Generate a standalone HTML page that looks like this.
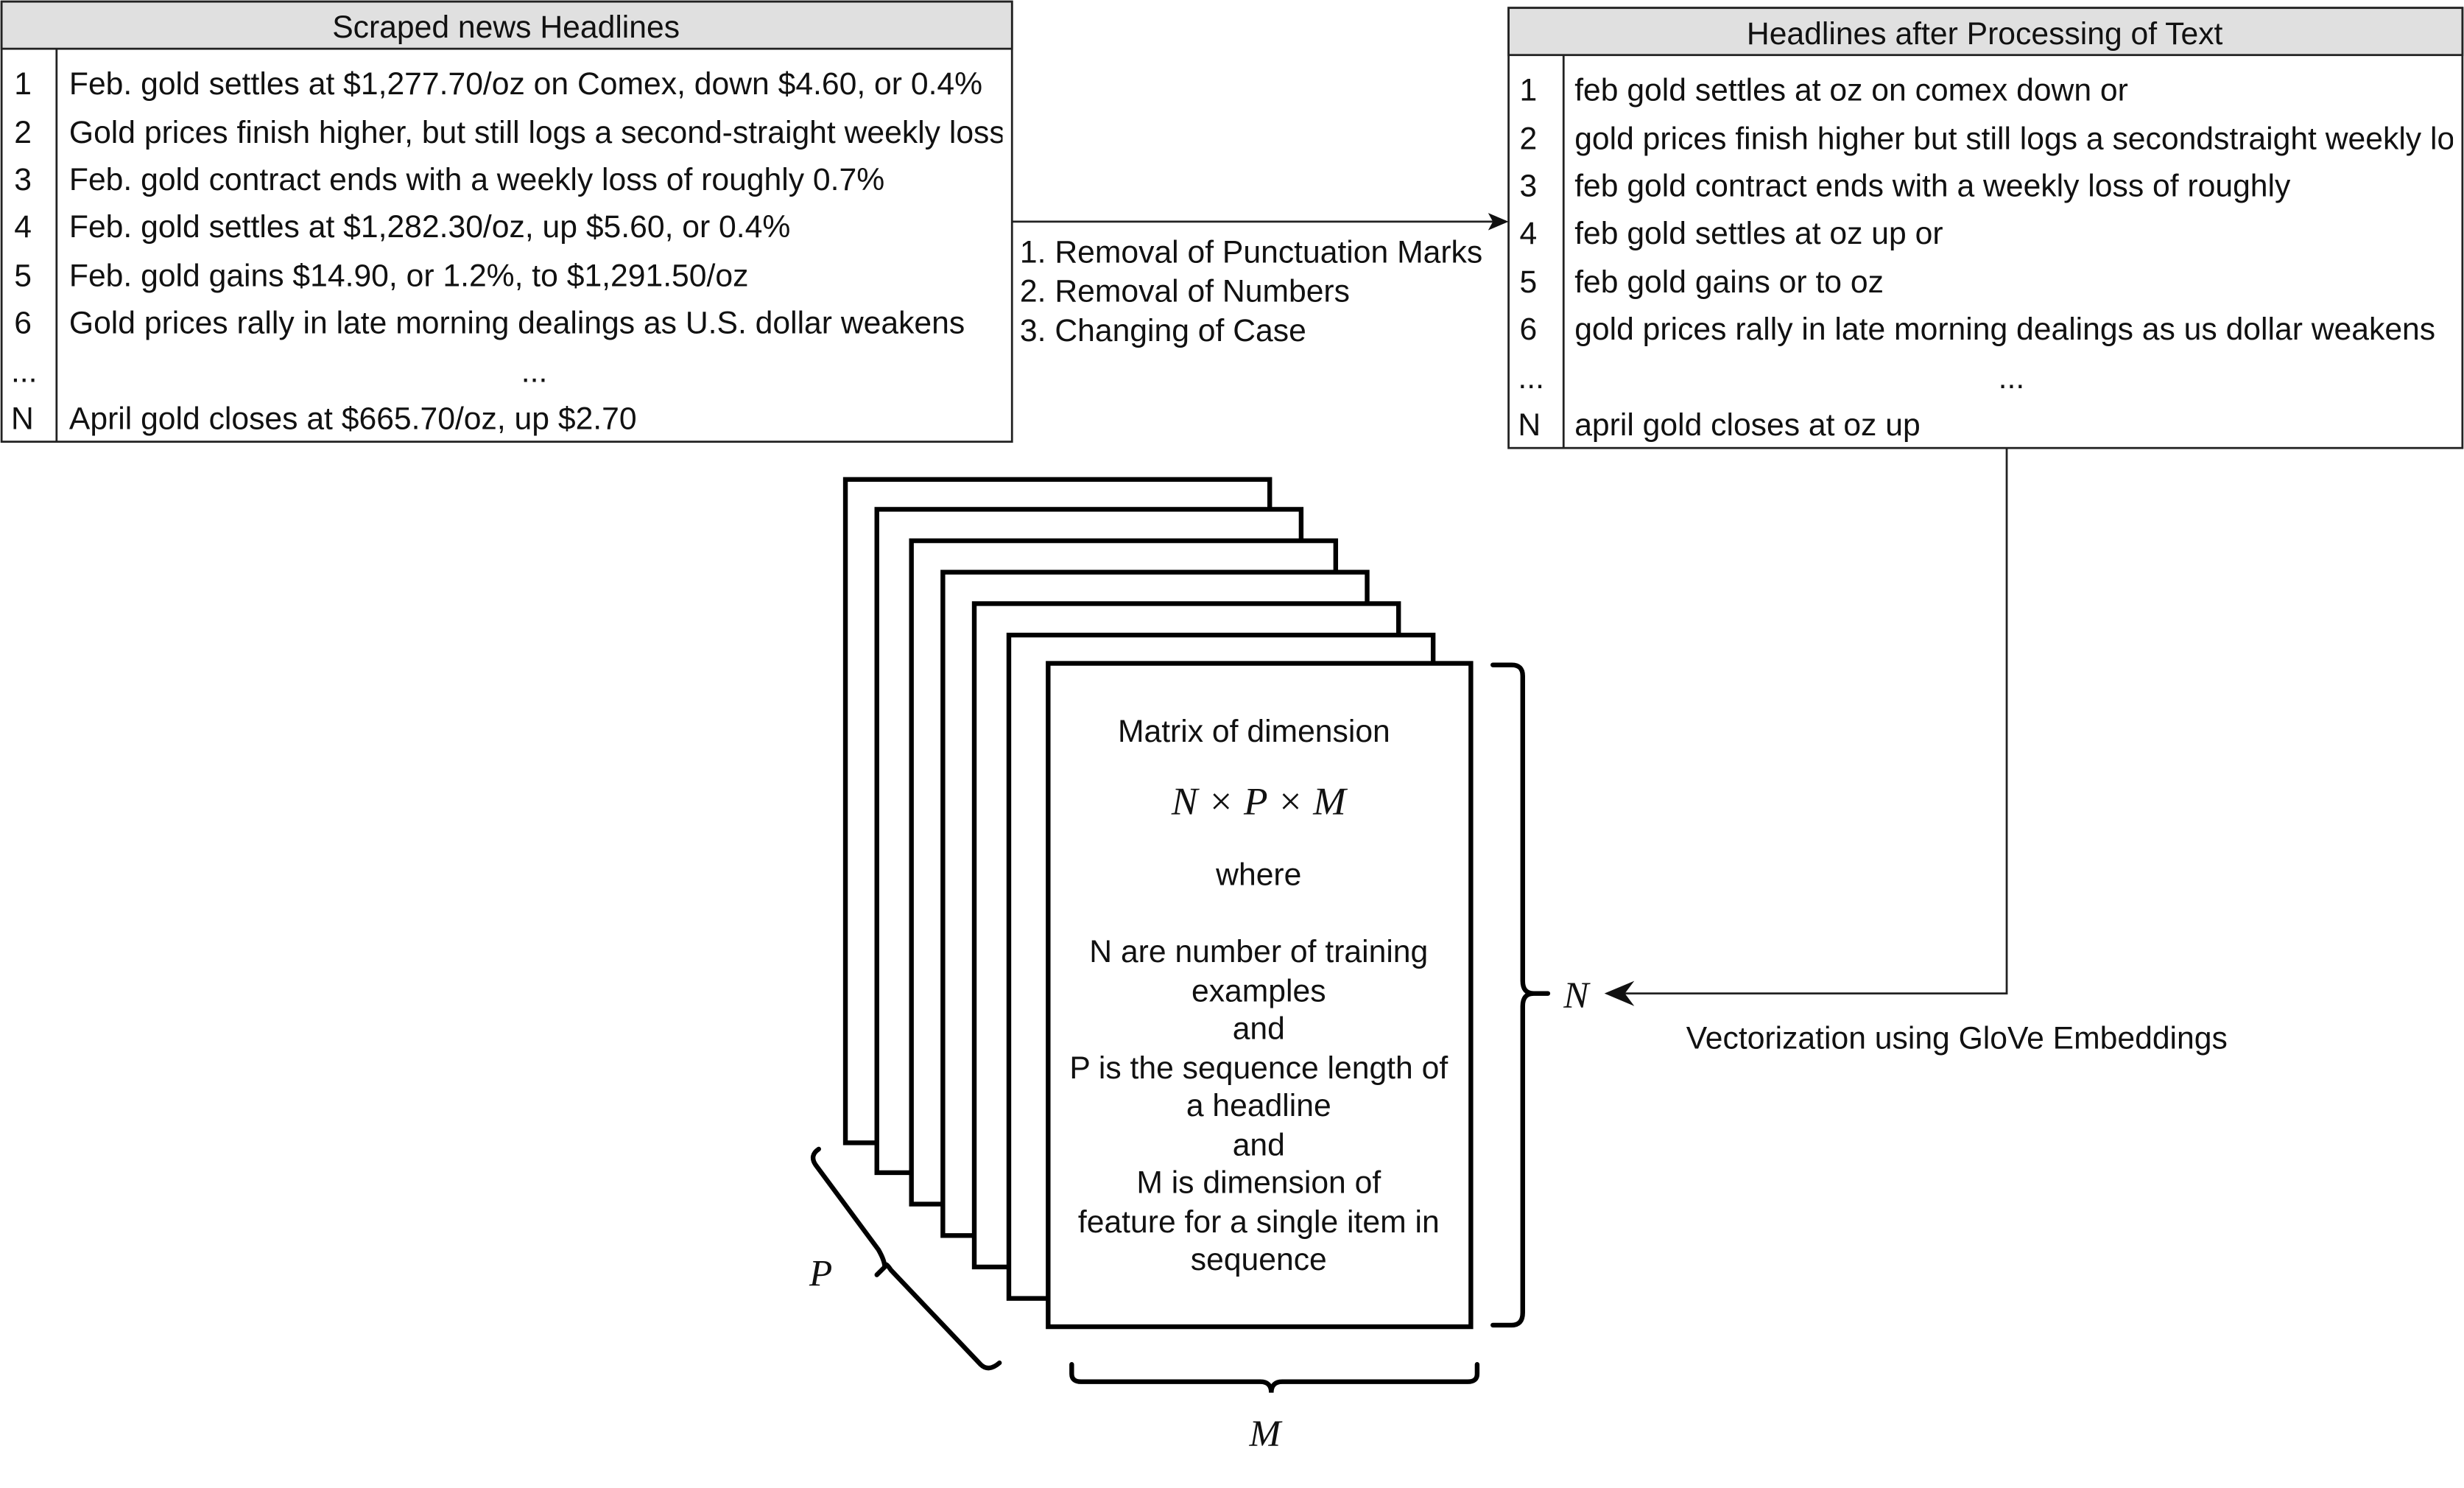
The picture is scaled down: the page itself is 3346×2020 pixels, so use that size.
<!DOCTYPE html>
<html><head><meta charset="utf-8"><style>
html,body{margin:0;padding:0;background:#fff;width:3346px;height:2020px;overflow:hidden}
text{font-family:"Liberation Sans",sans-serif;fill:#111}
.s{font-family:"Liberation Serif",serif;font-style:italic}
</style></head><body>
<svg width="3346" height="2020" viewBox="0 0 1568 946.6" xmlns="http://www.w3.org/2000/svg">
<defs>
<clipPath id="cl"><rect x="36" y="31" width="602" height="250"/></clipPath>
<clipPath id="cr"><rect x="995" y="35" width="566" height="250"/></clipPath>
</defs>
<!-- left table -->
<rect x="1" y="1" width="643" height="280" fill="#fff" stroke="#222" stroke-width="1.3"/>
<rect x="1" y="1" width="643" height="30" fill="#e0e0e0" stroke="#222" stroke-width="1.3"/>
<line x1="36" y1="31" x2="36" y2="281" stroke="#222" stroke-width="1.3"/>
<text x="322" y="24" font-size="20" text-anchor="middle">Scraped news Headlines</text>
<g font-size="20">
<text x="9" y="60">1</text><text x="9" y="91">2</text><text x="9" y="121">3</text><text x="9" y="151">4</text><text x="9" y="182">5</text><text x="9" y="212">6</text><text x="7" y="243">...</text><text x="7" y="273">N</text>
<g clip-path="url(#cl)">
<text x="44" y="60">Feb. gold settles at $1,277.70/oz on Comex, down $4.60, or 0.4%</text>
<text x="44" y="91">Gold prices finish higher, but still logs a second-straight weekly loss</text>
<text x="44" y="121">Feb. gold contract ends with a weekly loss of roughly 0.7%</text>
<text x="44" y="151">Feb. gold settles at $1,282.30/oz, up $5.60, or 0.4%</text>
<text x="44" y="182">Feb. gold gains $14.90, or 1.2%, to $1,291.50/oz</text>
<text x="44" y="212">Gold prices rally in late morning dealings as U.S. dollar weakens</text>
<text x="340" y="243" text-anchor="middle">...</text>
<text x="44" y="273">April gold closes at $665.70/oz, up $2.70</text>
</g></g>
<!-- right table -->
<rect x="960" y="5" width="607" height="280" fill="#fff" stroke="#222" stroke-width="1.3"/>
<rect x="960" y="5" width="607" height="30" fill="#e0e0e0" stroke="#222" stroke-width="1.3"/>
<line x1="995" y1="35" x2="995" y2="285" stroke="#222" stroke-width="1.3"/>
<text x="1263" y="28" font-size="20" text-anchor="middle">Headlines after Processing of Text</text>
<g font-size="20">
<text x="967" y="64">1</text><text x="967" y="95">2</text><text x="967" y="125">3</text><text x="967" y="155">4</text><text x="967" y="186">5</text><text x="967" y="216">6</text><text x="966" y="247">...</text><text x="966" y="277">N</text>
<g clip-path="url(#cr)">
<text x="1002" y="64">feb gold settles at oz on comex down or</text>
<text x="1002" y="95">gold prices finish higher but still logs a secondstraight weekly loss</text>
<text x="1002" y="125">feb gold contract ends with a weekly loss of roughly</text>
<text x="1002" y="155">feb gold settles at oz up or</text>
<text x="1002" y="186">feb gold gains or to oz</text>
<text x="1002" y="216">gold prices rally in late morning dealings as us dollar weakens</text>
<text x="1280" y="247" text-anchor="middle">...</text>
<text x="1002" y="277">april gold closes at oz up</text>
</g></g>
<!-- arrow between tables -->
<line x1="644" y1="141" x2="950" y2="141" stroke="#222" stroke-width="1.3"/>
<path d="M960 141 L947 135.5 L950 141 L947 146.5Z" fill="#111"/>
<g font-size="20">
<text x="649" y="167">1. Removal of Punctuation Marks</text>
<text x="649" y="192">2. Removal of Numbers</text>
<text x="649" y="217">3. Changing of Case</text>
</g>
<!-- connector to N -->
<polyline points="1277,285 1277,632 1032,632" fill="none" stroke="#222" stroke-width="1.3"/>
<path d="M1021 632 L1040 624 L1034 632 L1040 640Z" fill="#111"/>
<text class="s" x="995" y="641" font-size="24">N</text>
<text x="1073" y="667" font-size="20">Vectorization using GloVe Embeddings</text>
<!-- stacked sheets -->
<g fill="#fff" stroke="#000" stroke-width="3">
<rect x="538" y="305" width="270" height="422"/>
<rect x="558" y="324" width="270" height="422"/>
<rect x="580" y="344" width="270" height="422"/>
<rect x="600" y="364" width="270" height="422"/>
<rect x="620" y="384" width="270" height="422"/>
<rect x="642" y="404" width="270" height="422"/>
<rect x="667" y="422" width="269" height="422"/>
</g>
<g font-size="20" text-anchor="middle">
<text x="798" y="472">Matrix of dimension</text>
<text class="s" x="801" y="518" font-size="25">N × P × M</text>
<text x="801" y="563">where</text>
<text x="801" y="612">N are number of training</text>
<text x="801" y="637">examples</text>
<text x="801" y="661">and</text>
<text x="801" y="686">P is the sequence length of</text>
<text x="801" y="710">a headline</text>
<text x="801" y="735">and</text>
<text x="801" y="759">M is dimension of</text>
<text x="801" y="784">feature for a single item in</text>
<text x="801" y="808">sequence</text>
</g>
<!-- braces -->
<g fill="none" stroke="#000" stroke-width="3" stroke-linecap="round">
<path d="M950 423 H962 Q969 423 969 430 V624 Q969 632 976 632 H985 M976 632 Q969 632 969 640 V835 Q969 843 962 843 H950"/>
<path d="M682 868 V874 Q682 879 688 879 H802 Q809 879 809 886 Q809 879 816 879 H934 Q940 879 940 874 V868"/>
<path d="M521 731 Q515 735 519 741 L559 795 Q563 802 563 806 Q563 802 567 808 L624 868 Q629 873 636 867"/>
<path d="M563 806 L558 811"/>
</g>
<text class="s" x="515" y="818" font-size="24">P</text>
<text class="s" x="795" y="920" font-size="24">M</text>
</svg>
</body></html>
